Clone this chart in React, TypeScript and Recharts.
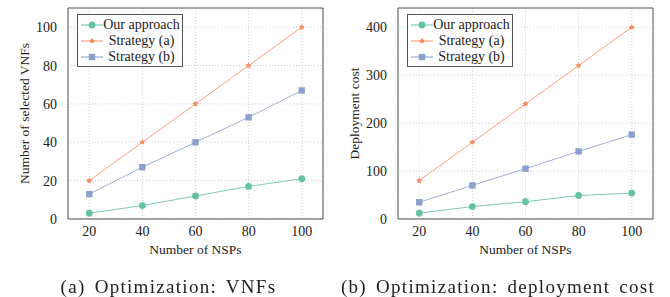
import {
  LineChart,
  Line,
  XAxis,
  YAxis,
  CartesianGrid,
  ReferenceArea,
  Legend,
  Label,
} from "recharts";

const nsps = [20, 40, 60, 80, 100];

const vnfOurs = [3, 7, 12, 17, 21];
const vnfStratA = [20, 40, 60, 80, 100];
const vnfStratB = [13, 27, 40, 53, 67];

const costOurs = [12, 26, 36, 49, 54];
const costStratA = [80, 160, 240, 320, 400];
const costStratB = [35, 70, 105, 141, 176];

const vnfTicks = [0, 20, 40, 60, 80, 100];
const costTicks = [0, 100, 200, 300, 400];

const seriesNames = ["Our approach", "Strategy (a)", "Strategy (b)"];
const colors = ["#66c2a5", "#fc8d62", "#8da0cb"];

const serif = "Liberation Serif";
const textColor = "#222";

function starPath(cx: number, cy: number) {
  const pts: string[] = [];
  for (let i = 0; i < 10; i++) {
    const r = i % 2 === 0 ? 3.2 : 1.6;
    const a = (Math.PI / 5) * i - Math.PI / 2;
    pts.push(`${cx + r * Math.cos(a)},${cy + r * Math.sin(a)}`);
  }
  return "M" + pts.join("L") + "Z";
}

function Marker({ kind, cx, cy }: { kind: number; cx: number; cy: number }) {
  const color = colors[kind];
  if (kind === 0) return <circle cx={cx} cy={cy} r={3.4} fill={color} />;
  if (kind === 1)
    return (
      <g>
        <circle cx={cx} cy={cy} r={1.8} fill={color} />
        <path d={starPath(cx, cy)} fill={color} />
      </g>
    );
  return <rect x={cx - 3.2} y={cy - 3.2} width={6.4} height={6.4} fill={color} />;
}

function LegendBox() {
  return (
    <div
      style={{
        width: 106,
        boxSizing: "border-box",
        border: "1px solid #555",
        background: "#fff",
        padding: "2px 2px 1px 3px",
        fontFamily: serif,
        fontSize: 14,
        color: textColor,
      }}
    >
      {seriesNames.map((name, i) => (
        <div key={name} style={{ display: "flex", alignItems: "center", height: 16 }}>
          <svg width={22} height={10} style={{ flex: "none" }}>
            <line x1={0} y1={5} x2={22} y2={5} stroke={colors[i]} strokeWidth={1} />
            <Marker kind={i} cx={11} cy={5} />
          </svg>
          <span
            style={{
              flex: 1,
              textAlign: "center",
              whiteSpace: "nowrap",
              fontFamily: serif,
            }}
          >
            {name}
          </span>
        </div>
      ))}
    </div>
  );
}

type PanelProps = {
  ours: number[];
  stratA: number[];
  stratB: number[];
  yTicks: number[];
  yMax: number;
  yLabel: string;
};

function Panel({ ours, stratA, stratB, yTicks, yMax, yLabel }: PanelProps) {
  const data = nsps.map((n, i) => ({
    nsp: n,
    s0: ours[i],
    s1: stratA[i],
    s2: stratB[i],
  }));
  const tickStyle = { fontFamily: serif, fontSize: 14, fill: textColor };
  const labelStyle = { fontFamily: serif, fontSize: 13.5, fill: textColor };

  return (
    <LineChart
      width={335}
      height={262}
      data={data}
      margin={{ top: 8, right: 12, bottom: 0, left: 4 }}
      style={{ fontFamily: serif }}
    >
      <CartesianGrid stroke="#cfcfcf" strokeDasharray="1 2" />
      <XAxis
        dataKey="nsp"
        type="number"
        domain={[12, 108]}
        ticks={nsps}
        tick={tickStyle}
        fontFamily={serif}
        tickLine={false}
        axisLine={false}
        tickMargin={1}
        height={43}
      >
        <Label value="Number of NSPs" position="insideBottom" offset={8} style={labelStyle} />
      </XAxis>
      <YAxis
        type="number"
        domain={[0, yMax]}
        ticks={yTicks}
        tick={tickStyle}
        fontFamily={serif}
        tickLine={false}
        axisLine={false}
        tickMargin={5}
        width={64}
      >
        <Label
          value={yLabel}
          angle={-90}
          position="insideLeft"
          offset={20}
          style={{ ...labelStyle, textAnchor: "middle" }}
        />
      </YAxis>
      <ReferenceArea
        x1={12}
        x2={108}
        y1={0}
        y2={yMax}
        fill="none"
        stroke="#555"
        strokeWidth={1}
        fillOpacity={0}
      />
      {[0, 1, 2].map((k) => (
        <Line
          key={k}
          type="linear"
          dataKey={`s${k}`}
          name={seriesNames[k]}
          stroke={colors[k]}
          strokeOpacity={0.85}
          strokeWidth={1}
          isAnimationActive={false}
          dot={(p: any) => <Marker key={p.index} kind={k} cx={p.cx} cy={p.cy} />}
          activeDot={false}
        />
      ))}
      <Legend
        layout="vertical"
        align="center"
        verticalAlign="middle"
        content={() => <LegendBox />}
        wrapperStyle={{ left: 77, top: 14, width: 106, fontFamily: serif }}
      />
    </LineChart>
  );
}

export default function App() {
  const captionStyle = {
    position: "absolute" as const,
    top: 275,
    fontFamily: serif,
    fontSize: 19,
    letterSpacing: 1.3,
    wordSpacing: 3,
    color: textColor,
    textAlign: "center" as const,
    whiteSpace: "nowrap" as const,
    lineHeight: "24px",
  };

  return (
    <div
      style={{
        position: "fixed",
        left: 0,
        top: 0,
        width: 670,
        height: 297,
        background: "#fff",
        fontFamily: serif,
      }}
    >
      <div style={{ position: "absolute", left: 0, top: 0 }}>
        <Panel
          ours={vnfOurs}
          stratA={vnfStratA}
          stratB={vnfStratB}
          yTicks={vnfTicks}
          yMax={110}
          yLabel="Number of selected VNFs"
        />
      </div>
      <div style={{ position: "absolute", left: 330, top: 0 }}>
        <Panel
          ours={costOurs}
          stratA={costStratA}
          stratB={costStratB}
          yTicks={costTicks}
          yMax={440}
          yLabel="Deployment cost"
        />
      </div>
      <div style={{ ...captionStyle, left: 0, width: 337 }}>(a) Optimization: VNFs</div>
      <div style={{ ...captionStyle, left: 338, width: 320 }}>
        (b) Optimization: deployment cost
      </div>
    </div>
  );
}
